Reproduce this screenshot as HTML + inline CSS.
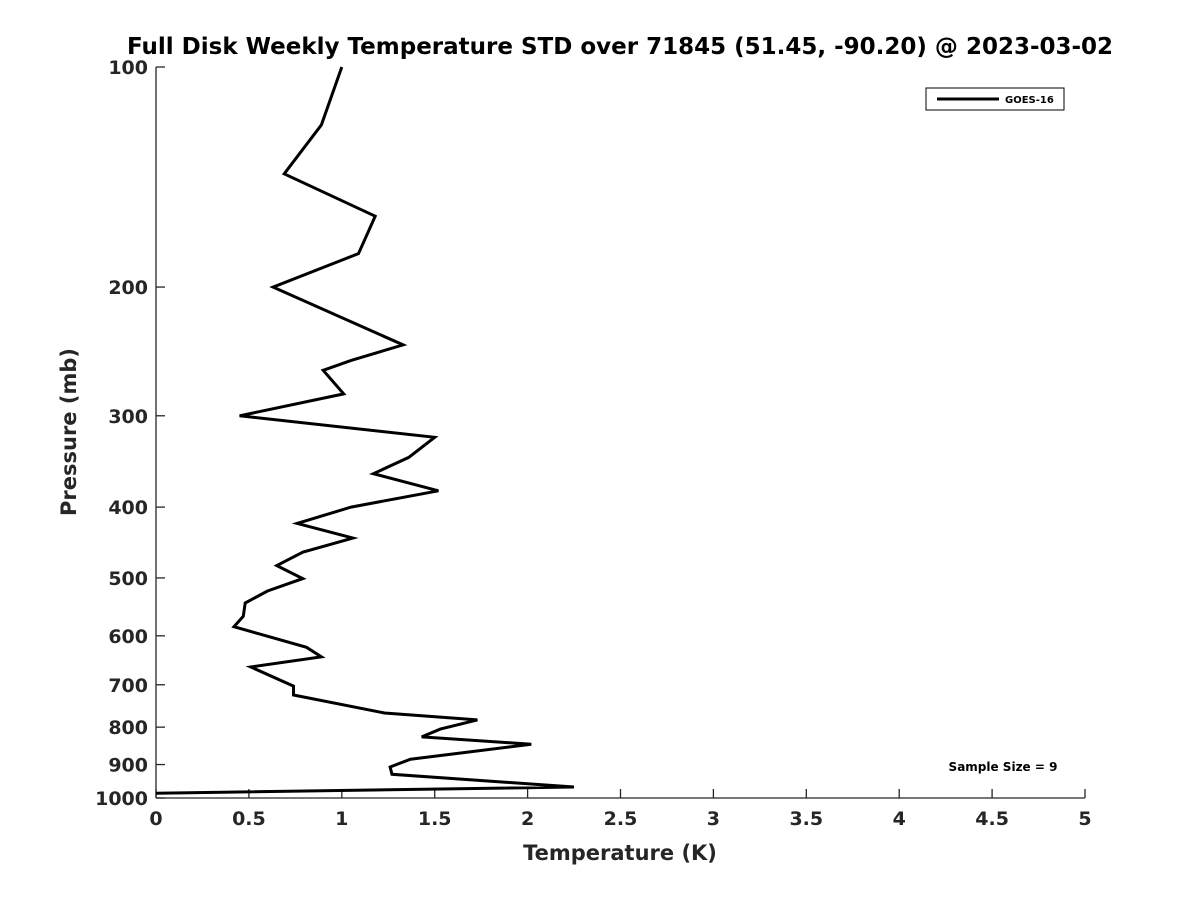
<!DOCTYPE html>
<html><head><meta charset="utf-8"><style>
body{margin:0;background:#fff}
svg text{font-family:"DejaVu Sans","Liberation Sans",sans-serif;font-weight:bold;fill:#262626}
</style></head><body>
<svg id="chart" width="1200" height="900" viewBox="0 0 1200 900" xmlns="http://www.w3.org/2000/svg">
<rect width="1200" height="900" fill="#fff"/>
<text x="620" y="54" text-anchor="middle" font-size="23" style="fill:#000">Full Disk Weekly Temperature STD over 71845 (51.45, -90.20) @ 2023-03-02</text>
<g id="axes"></g>
<path id="series" fill="none" stroke="#000" stroke-width="3" stroke-linejoin="miter"/>
<g>
<rect x="926" y="88" width="138" height="22" fill="#fff" stroke="#000" stroke-width="1"/>
<line x1="937" y1="99" x2="999" y2="99" stroke="#000" stroke-width="3"/>
<text x="1005" y="103" font-size="10" style="fill:#000">GOES-16</text>
</g>
<text x="1003" y="771" text-anchor="middle" font-size="12" style="fill:#000">Sample Size = 9</text>
<text x="620" y="860" text-anchor="middle" font-size="21">Temperature (K)</text>
<text transform="translate(76,432) rotate(-90)" text-anchor="middle" font-size="21">Pressure (mb)</text>
</svg>
<script>
const pressures=[100,120,140,160,180,200,240,252,260,280,300,321,342,360,380,400,421,441,461,481,501,521,541,564,583,622,641,662,703,723,765,782,805,825,844,885,907,928,966,985];
const temps=[1.00,0.89,0.69,1.18,1.09,0.63,1.33,1.05,0.90,1.01,0.45,1.50,1.36,1.17,1.52,1.05,0.76,1.06,0.79,0.65,0.79,0.60,0.48,0.47,0.42,0.81,0.89,0.51,0.74,0.74,1.23,1.73,1.53,1.43,2.02,1.37,1.26,1.27,2.25,0.0];
const xTicks=[0,0.5,1,1.5,2,2.5,3,3.5,4,4.5,5];
const xTickLabels=["0","0.5","1","1.5","2","2.5","3","3.5","4","4.5","5"];
const yTicks=[100,200,300,400,500,600,700,800,900,1000];
const yTickLabels=["100","200","300","400","500","600","700","800","900","1000"];
const L=156,R=1085,T=67,B=798;
const xs=v=>L+(v-0)/(5-0)*(R-L);
const ys=p=>T+Math.log10(p/100)*(B-T);
const NS="http://www.w3.org/2000/svg";
const ax=document.getElementById('axes');
function mk(tag,attrs,parent){const e=document.createElementNS(NS,tag);for(const k in attrs)e.setAttribute(k,attrs[k]);parent.appendChild(e);return e;}
let l=mk('line',{x1:L,y1:T,x2:L,y2:B,stroke:'#262626','stroke-width':1.3},ax);


l=mk('line',{x1:L,y1:B,x2:R,y2:B,stroke:'#262626','stroke-width':1.3},ax);


xTicks.forEach((v,i)=>{
 const x=xs(v);
 const t=mk('line',{x1:x,y1:B,x2:x,y2:B-9,stroke:'#262626','stroke-width':1.3},ax);
 
 
 const tx=mk('text',{x:x,y:B+27,'text-anchor':'middle','font-size':19},ax);
 
 
 tx.textContent=xTickLabels[i];
});
yTicks.forEach((p,i)=>{
 const y=ys(p);
 const t=mk('line',{x1:L,y1:y,x2:L+9,y2:y,stroke:'#262626','stroke-width':1.3},ax);
 
 
 const tx=mk('text',{x:L-8,y:y+7,'text-anchor':'end','font-size':19},ax);
 
 
 tx.textContent=yTickLabels[i];
});
document.getElementById('series').setAttribute('d',temps.map((v,i)=>(i?'L':'M')+xs(v).toFixed(1)+','+ys(pressures[i]).toFixed(1)).join(' '));
</script>
</body></html>
